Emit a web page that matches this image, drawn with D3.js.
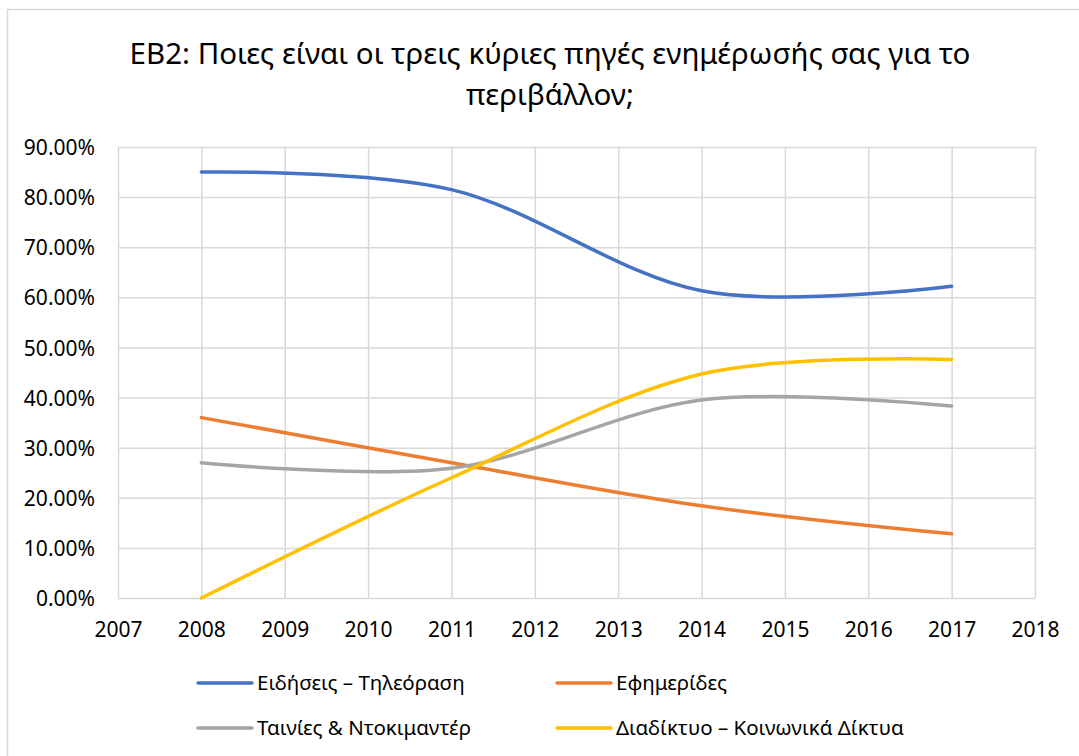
<!DOCTYPE html>
<html>
<head>
<meta charset="utf-8">
<script src="https://cdn.jsdelivr.net/npm/d3@7"></script>
<style>
  body { margin: 0; background: #fff; }
  svg text { font-family: "Noto Sans", "Open Sans", sans-serif; fill: #000; }
</style>
</head>
<body>
<div id="chart"></div>
<script>
// Chart data
const titleLines = ["ΕΒ2: Ποιες είναι οι τρεις κύριες πηγές ενημέρωσής σας για το", "περιβάλλον;"];
const years = [2008, 2011, 2014, 2017];
const seriesNames = ["Ειδήσεις – Τηλεόραση", "Εφημερίδες", "Ταινίες & Ντοκιμαντέρ", "Διαδίκτυο – Κοινωνικά Δίκτυα"];
const tvValues = [0.850, 0.815, 0.613, 0.622];
const paperValues = [0.360, 0.270, 0.184, 0.128];
const filmValues = [0.270, 0.259, 0.395, 0.383];
const webValues = [0.000, 0.240, 0.447, 0.476];
const xTickValues = [2007, 2008, 2009, 2010, 2011, 2012, 2013, 2014, 2015, 2016, 2017, 2018];
const yTickValues = [0, 0.1, 0.2, 0.3, 0.4, 0.5, 0.6, 0.7, 0.8, 0.9];

const colors = ["#4472C4", "#ED7D31", "#A5A5A5", "#FFC000"];
const allValues = [tvValues, paperValues, filmValues, webValues];

const W = 1079, H = 756;
const plot = { left: 118, right: 1035, top: 147, bottom: 598 };

const svg = d3.select("#chart")
    .append("svg")
    .attr("width", W)
    .attr("height", H);

// outer chart border (only left/top visible in the crop)
svg.append("rect")
    .attr("x", 7.5).attr("y", 9.5)
    .attr("width", 1200).attr("height", 900)
    .attr("fill", "none")
    .attr("stroke", "#d9d9d9")
    .attr("stroke-width", 1.5);

// title, fitted to the reference width
const title = svg.append("g");
titleLines.forEach((t, i) => {
    title.append("text")
        .attr("x", 550)
        .attr("y", 64 + i * 41)
        .attr("text-anchor", "middle")
        .style("font-size", "28px")
        .text(t);
});
const firstLine = title.select("text").node();
const fit = 28 * 841 / firstLine.getComputedTextLength();
title.selectAll("text").style("font-size", fit + "px");

// scales
const x = d3.scaleLinear().domain([2007, 2018]).range([plot.left, plot.right]);
const y = d3.scaleLinear().domain([0, 0.9]).range([plot.bottom, plot.top]);

// vertical grid + x axis labels
const xAxis = svg.append("g")
    .attr("transform", `translate(0,${plot.bottom})`)
    .call(d3.axisBottom(x)
        .tickValues(xTickValues)
        .tickFormat(d3.format("d"))
        .tickSize(-(plot.bottom - plot.top))
        .tickPadding(0));
xAxis.select(".domain").remove();
xAxis.selectAll("line").attr("stroke", "#d9d9d9").attr("stroke-width", 1.5);
xAxis.selectAll("text")
    .attr("y", 39)
    .attr("dy", null)
    .style("font-size", "21px");

// horizontal grid + y axis labels
const yAxis = svg.append("g")
    .attr("transform", `translate(${plot.left},0)`)
    .call(d3.axisLeft(y)
        .tickValues(yTickValues)
        .tickFormat(d3.format(".2%"))
        .tickSize(-(plot.right - plot.left))
        .tickPadding(0));
yAxis.select(".domain").remove();
yAxis.selectAll("line").attr("stroke", "#d9d9d9").attr("stroke-width", 1.5);
yAxis.selectAll("text")
    .attr("x", -23)
    .attr("dy", "0.36em")
    .style("font-size", "21px");

// smoothed lines, like Excel's smoothed line option
const line = d3.line()
    .x(d => x(d.year))
    .y(d => y(d.value))
    .curve(d3.curveCardinal.tension(0));

allValues.forEach((vals, i) => {
    const pts = years.map((yr, j) => ({ year: yr, value: vals[j] }));
    svg.append("path")
        .datum(pts)
        .attr("fill", "none")
        .attr("stroke", colors[i])
        .attr("stroke-width", 3.5)
        .attr("stroke-linecap", "round")
        .attr("d", line);
});

// legend
const legendX = [198, 557];
const legendY = [683, 728];
seriesNames.forEach((name, i) => {
    const g = svg.append("g")
        .attr("transform", `translate(${legendX[i % 2]},${legendY[Math.floor(i / 2)]})`);
    g.append("line")
        .attr("x1", 0).attr("x2", 54)
        .attr("stroke", colors[i])
        .attr("stroke-width", 3.5)
        .attr("stroke-linecap", "round");
    g.append("text")
        .attr("x", 59)
        .attr("dy", "0.36em")
        .style("font-size", "20.5px")
        .text(name);
});
</script>
</body>
</html>
